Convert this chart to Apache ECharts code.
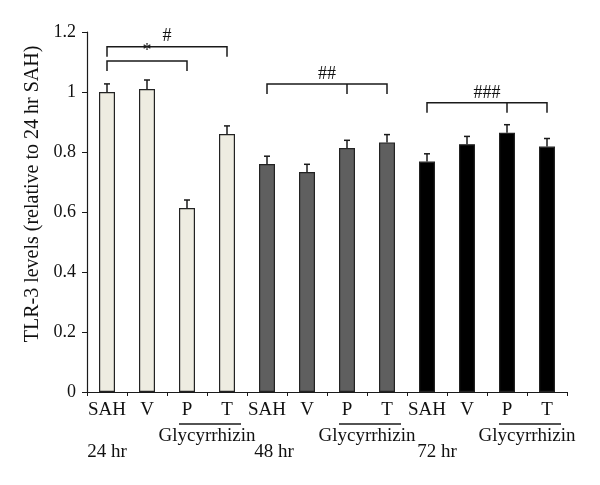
<!DOCTYPE html>
<html>
<head>
<meta charset="utf-8">
<script src="https://cdn.jsdelivr.net/npm/echarts@6/dist/echarts.min.js"></script>
<style>html,body{margin:0;padding:0;background:#fff}#c{width:600px;height:485px}</style>
</head>
<body>
<div id="c"></div>
<script>
const categories = ['SAH','V','P','T','SAH','V','P','T','SAH','V','P','T'];
const values = [1.00, 1.01, 0.613, 0.86, 0.76, 0.733, 0.813, 0.832, 0.768, 0.826, 0.864, 0.818];
const errors = [0.027, 0.030, 0.027, 0.027, 0.026, 0.026, 0.026, 0.026, 0.026, 0.026, 0.027, 0.027];
const groupOf = [0,0,0,0,1,1,1,1,2,2,2,2];
const groupNames = ['24 hr', '48 hr', '72 hr'];
const groupStart = [0, 4, 8];
const treatmentName = 'Glycyrrhizin';
const treatmentStart = [2, 6, 10];
const treatmentEnd = [3, 7, 11];
const bracketLabels = ['*', '#', '##', '###'];
const bracketStart = [0, 0, 4, 8];
const bracketEnd = [2, 3, 7, 11];
const bracketMid = [null, null, 6, 10];
const bracketLevel = [1.103, 1.151, 1.027, 0.964];
const yTicks = [0, 0.2, 0.4, 0.6, 0.8, 1, 1.2];
const yTitle = 'TLR-3 levels (relative to 24 hr SAH)';

// styling / layout constants
const groupFill = ['#EEECE1', '#5F5F5F', '#000000'];
const groupLabelNudge = [0, 7, 10];
const FONT = '"Liberation Serif", "DejaVu Serif", serif';
const INK = '#1a1a1a';

const chart = echarts.init(document.getElementById('c'), null, {renderer: 'canvas'});

const barData = values.map((v, i) => ({
  value: v,
  itemStyle: {color: groupFill[groupOf[i]], borderColor: '#222', borderWidth: 1.2}
}));

const errData = values.map((v, i) => [i, v, errors[i]]);
const bracketData = bracketLabels.map((l, i) => [bracketStart[i], bracketLevel[i], bracketEnd[i], bracketMid[i] == null ? -1 : bracketMid[i], i]);
const groupData = groupNames.map((g, i) => [groupStart[i], 0, treatmentStart[i], treatmentEnd[i], i]);

chart.setOption({
  animation: false,
  grid: {left: 87, right: 33, top: 32, bottom: 93},
  graphic: [{
    type: 'text', x: 33, y: 194, rotation: Math.PI / 2,
    style: {text: yTitle, fill: '#111', font: '20px ' + FONT, align: 'center', verticalAlign: 'middle'}
  }],
  xAxis: {
    type: 'category',
    data: categories,
    axisLine: {lineStyle: {color: INK, width: 1.2}},
    axisTick: {show: true, length: 4, lineStyle: {color: INK}},
    axisLabel: {color: '#111', fontFamily: FONT, fontSize: 19, margin: 9, interval: 0}
  },
  yAxis: {
    type: 'value',
    min: 0, max: 1.2, interval: 0.2,
    splitLine: {show: false},
    axisLine: {show: true, lineStyle: {color: INK, width: 1.2}},
    axisTick: {show: true, length: 5, lineStyle: {color: INK}},
    axisLabel: {color: '#111', fontFamily: FONT, fontSize: 18, margin: 11,
      formatter: v => { const t = yTicks.find(x => Math.abs(x - v) < 1e-6); return t === undefined ? '' : String(t); }}
  },
  series: [
    {type: 'bar', data: barData, barWidth: 16, z: 2},
    {
      type: 'custom', data: errData, z: 3,
      renderItem: (params, api) => {
        const i = api.value(0), v = api.value(1), e = api.value(2);
        const p0 = api.coord([i, v]);
        const p1 = api.coord([i, v + e]);
        const st = {stroke: INK, lineWidth: 1.5};
        return {type: 'group', children: [
          {type: 'line', shape: {x1: p0[0], y1: p0[1], x2: p1[0], y2: p1[1]}, style: st},
          {type: 'line', shape: {x1: p1[0] - 3, y1: p1[1], x2: p1[0] + 3, y2: p1[1]}, style: st}
        ]};
      }
    },
    {
      type: 'custom', data: bracketData, z: 3, clip: false,
      renderItem: (params, api) => {
        const s = api.value(0), lvl = api.value(1), e = api.value(2), m = api.value(3), k = api.value(4);
        const a = api.coord([s, lvl]), b = api.coord([e, lvl]);
        const st = {stroke: INK, lineWidth: 1.5};
        const drop = 10;
        const ch = [
          {type: 'polyline', shape: {points: [[a[0], a[1] + drop], [a[0], a[1]], [b[0], b[1]], [b[0], b[1] + drop]]}, style: Object.assign({fill: null}, st)}
        ];
        if (m >= 0) {
          const c = api.coord([m, lvl]);
          ch.push({type: 'line', shape: {x1: c[0], y1: c[1], x2: c[0], y2: c[1] + drop}, style: st});
        }
        ch.push({type: 'text', x: (a[0] + b[0]) / 2, y: a[1] - 1,
          style: {text: bracketLabels[k], fill: '#111', font: '18px ' + FONT, align: 'center', verticalAlign: 'bottom'}});
        return {type: 'group', children: ch};
      }
    },
    {
      type: 'custom', data: groupData, z: 3, clip: false,
      renderItem: (params, api) => {
        const g = api.value(0), ts = api.value(2), te = api.value(3), k = api.value(4);
        const pg = api.coord([g, 0]);
        const p1 = api.coord([ts, 0]), p2 = api.coord([te, 0]);
        const ly = pg[1] + 32;
        return {type: 'group', children: [
          {type: 'line', shape: {x1: p1[0] - 8, y1: ly, x2: p2[0] + 14, y2: ly}, style: {stroke: INK, lineWidth: 1.3}},
          {type: 'text', x: (p1[0] + p2[0]) / 2, y: ly + 12,
            style: {text: treatmentName, fill: '#111', font: '19px ' + FONT, align: 'center', verticalAlign: 'middle'}},
          {type: 'text', x: pg[0] + groupLabelNudge[k], y: pg[1] + 60,
            style: {text: groupNames[k], fill: '#111', font: '19px ' + FONT, align: 'center', verticalAlign: 'middle'}}
        ]};
      }
    }
  ]
});
</script>
</body>
</html>
